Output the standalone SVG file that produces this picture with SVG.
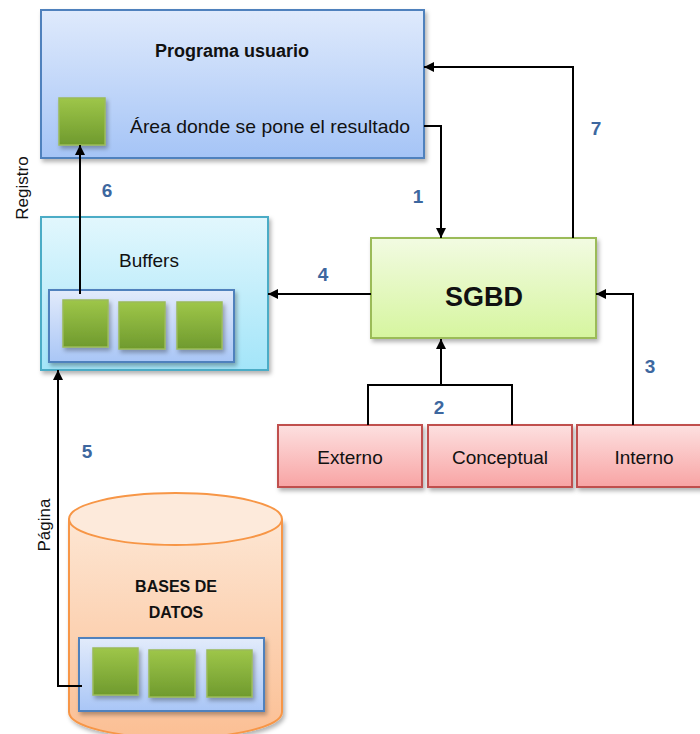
<svg xmlns="http://www.w3.org/2000/svg" width="700" height="734" viewBox="0 0 700 734">
<defs>
<linearGradient id="gBlue" x1="0" y1="0" x2="0" y2="1"><stop offset="0" stop-color="#dfeafc"/><stop offset="1" stop-color="#a5c4f6"/></linearGradient>
<linearGradient id="gCyan" x1="0" y1="0" x2="0" y2="1"><stop offset="0" stop-color="#e2f7fd"/><stop offset="1" stop-color="#a3e5f9"/></linearGradient>
<linearGradient id="gInner" x1="0" y1="0" x2="0" y2="1"><stop offset="0" stop-color="#e2ebfb"/><stop offset="1" stop-color="#a9c6f6"/></linearGradient>
<linearGradient id="gGreenBox" x1="0" y1="0" x2="0" y2="1"><stop offset="0" stop-color="#f2fbe2"/><stop offset="1" stop-color="#d6f59f"/></linearGradient>
<linearGradient id="gSq" x1="0" y1="0" x2="0" y2="1"><stop offset="0" stop-color="#9ec649"/><stop offset="1" stop-color="#6f9a2e"/></linearGradient>
<linearGradient id="gPink" x1="0" y1="0" x2="0" y2="1"><stop offset="0" stop-color="#fde0e0"/><stop offset="1" stop-color="#f8a4a4"/></linearGradient>
<linearGradient id="gOrange" x1="0" y1="0" x2="0" y2="1"><stop offset="0" stop-color="#fde6d3"/><stop offset="1" stop-color="#fbbf94"/></linearGradient>
<filter id="sh" x="-10%" y="-10%" width="125%" height="130%"><feDropShadow dx="2" dy="3" stdDeviation="2" flood-color="#000" flood-opacity="0.3"/></filter>
<marker id="ah" viewBox="0 0 10 10" refX="10" refY="5" markerWidth="10" markerHeight="10" markerUnits="userSpaceOnUse" orient="auto"><path d="M0,0 L10,5 L0,10 z" fill="#000"/></marker>
</defs>
<style>
.t{font-family:"Liberation Sans",Arial,sans-serif;fill:#111;}
.b{font-weight:bold;}
.n{font-family:"Liberation Sans",Arial,sans-serif;font-weight:bold;font-size:19px;fill:#3d679f;}
.sq{fill:url(#gSq);stroke:#9bbb59;stroke-width:1.5;filter:url(#sh);}
.ln{fill:none;stroke:#000;stroke-width:2;}
</style>

<g id="programa">
<rect x="41" y="10" width="383" height="148" fill="url(#gBlue)" stroke="#4f81bd" stroke-width="2" filter="url(#sh)"/>
<text class="t b" x="232" y="57" font-size="18" text-anchor="middle">Programa usuario</text>
<rect class="sq" x="59" y="98" width="46" height="47"/>
<text class="t" x="130" y="133" font-size="19" textLength="280" lengthAdjust="spacingAndGlyphs">Área donde se pone el resultado</text>
</g>

<g id="buffers">
<rect x="41" y="217" width="227" height="153" fill="url(#gCyan)" stroke="#4bacc6" stroke-width="2" filter="url(#sh)"/>
<text class="t" x="149" y="267" font-size="19" text-anchor="middle">Buffers</text>
<rect x="49" y="290" width="185" height="72" fill="url(#gInner)" stroke="#4f81bd" stroke-width="2" filter="url(#sh)"/>
<rect class="sq" x="63" y="300" width="45" height="47"/>
<rect class="sq" x="119" y="302" width="46" height="47"/>
<rect class="sq" x="177" y="302" width="45" height="47"/>
</g>

<g id="sgbd">
<rect x="371" y="238" width="225" height="100" fill="url(#gGreenBox)" stroke="#9bbb59" stroke-width="2" filter="url(#sh)"/>
<text class="t b" x="484" y="306" font-size="27" text-anchor="middle">SGBD</text>
</g>

<g id="externo">
<rect x="278" y="425" width="144" height="62" fill="url(#gPink)" stroke="#c0504d" stroke-width="2" filter="url(#sh)"/>
<text class="t" x="350" y="464" font-size="19" text-anchor="middle">Externo</text>
</g>
<g id="conceptual">
<rect x="428" y="425" width="144" height="62" fill="url(#gPink)" stroke="#c0504d" stroke-width="2" filter="url(#sh)"/>
<text class="t" x="500" y="464" font-size="19" text-anchor="middle">Conceptual</text>
</g>
<g id="interno">
<rect x="577" y="425" width="130" height="62" fill="url(#gPink)" stroke="#c0504d" stroke-width="2" filter="url(#sh)"/>
<text class="t" x="644" y="464" font-size="19" text-anchor="middle">Interno</text>
</g>

<g id="basedatos">
<path d="M69,519 L69,712 A106.5,26 0 0 0 282,712 L282,519" fill="url(#gOrange)" stroke="#f79646" stroke-width="2" filter="url(#sh)"/>
<ellipse cx="175.5" cy="519" rx="106.5" ry="26" fill="#fdeadb" stroke="#f79646" stroke-width="2"/>
<text class="t b" x="176" y="592" font-size="16" text-anchor="middle">BASES DE</text>
<text class="t b" x="176" y="618" font-size="16" text-anchor="middle">DATOS</text>
<rect x="79" y="638" width="185" height="73" fill="url(#gInner)" stroke="#4f81bd" stroke-width="2" filter="url(#sh)"/>
<rect class="sq" x="93" y="648" width="45" height="47"/>
<rect class="sq" x="149" y="650" width="46" height="47"/>
<rect class="sq" x="207" y="650" width="45" height="47"/>
</g>

<g id="connectors">
<path class="ln" d="M424,126 L441,126 L441,238" marker-end="url(#ah)"/>
<path class="ln" d="M573,238 L573,67 L424,67" marker-end="url(#ah)"/>
<path class="ln" d="M371,294 L268,294" marker-end="url(#ah)"/>
<path class="ln" d="M633,425 L633,294 L596,294" marker-end="url(#ah)"/>
<path class="ln" d="M368,425 L368,385 L512,385 L512,425"/>
<path class="ln" d="M441,385 L441,339" marker-end="url(#ah)"/>
<path class="ln" d="M80,294 L80,145" marker-end="url(#ah)"/>
<path class="ln" d="M82,686 L58,686 L58,370" marker-end="url(#ah)"/>
</g>

<g id="labels">
<text class="n" x="418" y="203" text-anchor="middle">1</text>
<text class="n" x="439" y="414" text-anchor="middle">2</text>
<text class="n" x="650" y="373" text-anchor="middle">3</text>
<text class="n" x="323" y="281" text-anchor="middle">4</text>
<text class="n" x="87" y="458" text-anchor="middle">5</text>
<text class="n" x="107" y="197" text-anchor="middle">6</text>
<text class="n" x="596" y="135" text-anchor="middle">7</text>
<text class="t" font-size="17" text-anchor="middle" transform="translate(28,188) rotate(-90)">Registro</text>
<text class="t" font-size="17" text-anchor="middle" transform="translate(50,525) rotate(-90)">Página</text>
</g>
</svg>
